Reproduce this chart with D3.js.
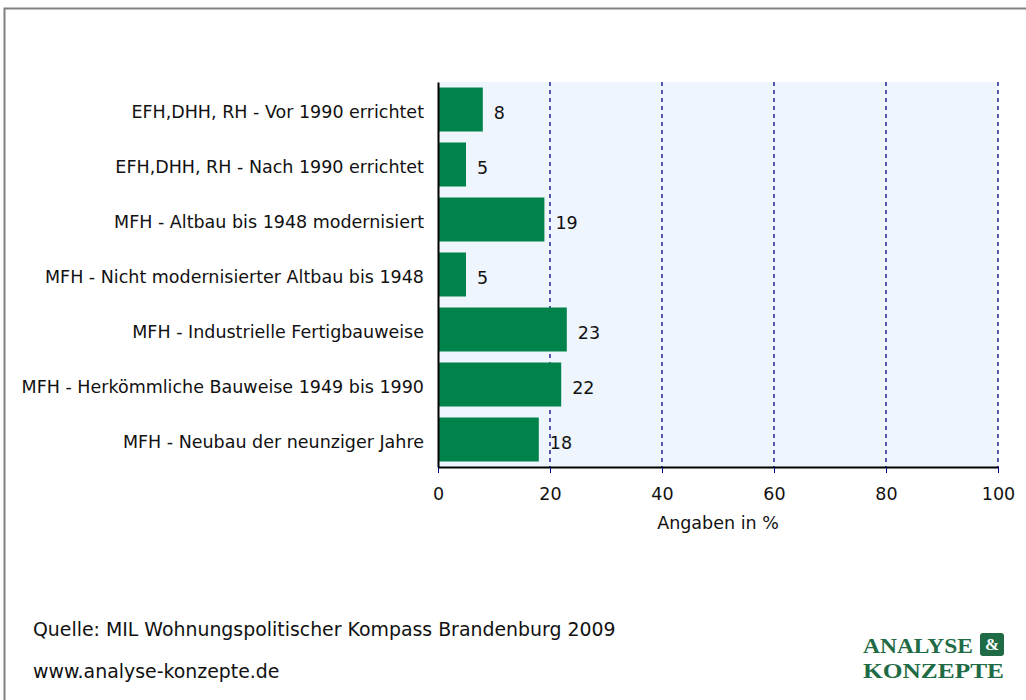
<!DOCTYPE html>
<html>
<head>
<meta charset="utf-8">
<script src="https://cdn.jsdelivr.net/npm/d3@7"></script>
<style>
  body { margin: 0; background: #fff; }
  svg text { font-family: "DejaVu Sans", sans-serif; fill: #111; }
</style>
</head>
<body>
<svg id="chart" width="1026" height="700"></svg>
<script>
// categories and values (Angaben in %)
const categories = [
  "EFH,DHH, RH - Vor 1990 errichtet",
  "EFH,DHH, RH - Nach 1990 errichtet",
  "MFH - Altbau bis 1948 modernisiert",
  "MFH - Nicht modernisierter Altbau bis 1948",
  "MFH - Industrielle Fertigbauweise",
  "MFH - Herkömmliche Bauweise 1949 bis 1990",
  "MFH - Neubau der neunziger Jahre"
];
const values = [8, 5, 19, 5, 23, 22, 18];
const xTicks = [0, 20, 40, 60, 80, 100];

const svg = d3.select('#chart');
const labelFont = '"DejaVu Sans", sans-serif';

// outer frame (only top and left visible)
svg.append('path')
  .attr('d', 'M4.5,700 V8.5 H1026')
  .attr('fill', 'none')
  .attr('stroke', '#808080')
  .attr('stroke-width', 2);

const plot = { left: 438, right: 998, top: 82, bottom: 467 };

const x = d3.scaleLinear().domain([0, 100]).range([plot.left, plot.right]);
const y = d3.scaleBand().domain(categories).range([plot.top, plot.bottom]).paddingInner(0.2).paddingOuter(0.1);

// plot background
svg.append('rect')
  .attr('x', plot.left).attr('y', plot.top)
  .attr('width', plot.right - plot.left).attr('height', plot.bottom - plot.top)
  .attr('fill', '#eef5fd');

// dashed grid lines
svg.append('g').selectAll('line')
  .data(xTicks.filter(d => d > 0))
  .enter().append('line')
  .attr('x1', d => x(d)).attr('x2', d => x(d))
  .attr('y1', plot.top).attr('y2', plot.bottom)
  .attr('stroke', '#000080')
  .attr('stroke-width', 1.3)
  .attr('stroke-dasharray', '4,4');

// bars
svg.append('g').selectAll('rect')
  .data(values)
  .enter().append('rect')
  .attr('x', x(0))
  .attr('y', (d, i) => y(categories[i]))
  .attr('width', d => x(d) - x(0))
  .attr('height', y.bandwidth())
  .attr('fill', '#00834a');

// value labels
svg.append('g').selectAll('text')
  .data(values)
  .enter().append('text')
  .attr('x', d => x(d) + 11)
  .attr('y', (d, i) => y(categories[i]) + y.bandwidth() / 2 + 9)
  .attr('font-size', 17.5)
  .text(d => d);

// x axis
const xAxis = svg.append('g')
  .attr('transform', `translate(0,${plot.bottom})`)
  .call(d3.axisBottom(x).tickValues(xTicks).tickSize(6).tickSizeOuter(0));
xAxis.select('.domain').attr('stroke', '#000').attr('stroke-width', 2);
xAxis.selectAll('.tick line').attr('stroke', '#000080');
xAxis.selectAll('.tick text')
  .attr('font-size', 17.5)
  .attr('font-family', labelFont)
  .attr('fill', '#111')
  .attr('y', 33)
  .attr('dy', null);

// y axis
const yAxis = svg.append('g')
  .attr('transform', `translate(${plot.left},0)`)
  .call(d3.axisLeft(y).tickSize(0).tickPadding(14));
yAxis.select('.domain').attr('stroke', '#000').attr('stroke-width', 2);
yAxis.selectAll('.tick text')
  .attr('font-size', 17.5)
  .attr('font-family', labelFont)
  .attr('fill', '#111')
  .attr('dy', '0.46em');

// axis title
svg.append('text')
  .attr('x', x(50)).attr('y', 529)
  .attr('text-anchor', 'middle')
  .attr('font-size', 17.5)
  .text('Angaben in %');

// source lines
svg.append('text')
  .attr('x', 33).attr('y', 636)
  .attr('font-size', 18.9)
  .text('Quelle: MIL Wohnungspolitischer Kompass Brandenburg 2009');
svg.append('text')
  .attr('x', 33).attr('y', 678)
  .attr('font-size', 18.9)
  .text('www.analyse-konzepte.de');

// logo
const logoFont = '"Liberation Serif", serif';
const logoGreen = '#1e6b45';
svg.append('text').attr('x', 863).attr('y', 653).attr('font-size', 21).attr('font-weight', 'bold')
  .attr('textLength', 110).attr('lengthAdjust', 'spacingAndGlyphs')
  .style('fill', logoGreen).style('font-family', logoFont).text('ANALYSE');
svg.append('rect').attr('x', 980).attr('y', 633).attr('width', 24).attr('height', 23).attr('rx', 3)
  .attr('fill', logoGreen);
svg.append('text').attr('x', 992).attr('y', 650).attr('font-size', 17).attr('font-weight', 'bold')
  .attr('text-anchor', 'middle')
  .style('fill', '#fff').style('font-family', logoFont).text('&');
svg.append('text').attr('x', 863).attr('y', 678).attr('font-size', 21).attr('font-weight', 'bold')
  .attr('textLength', 141).attr('lengthAdjust', 'spacingAndGlyphs')
  .style('fill', logoGreen).style('font-family', logoFont).text('KONZEPTE');
</script>
</body>
</html>
